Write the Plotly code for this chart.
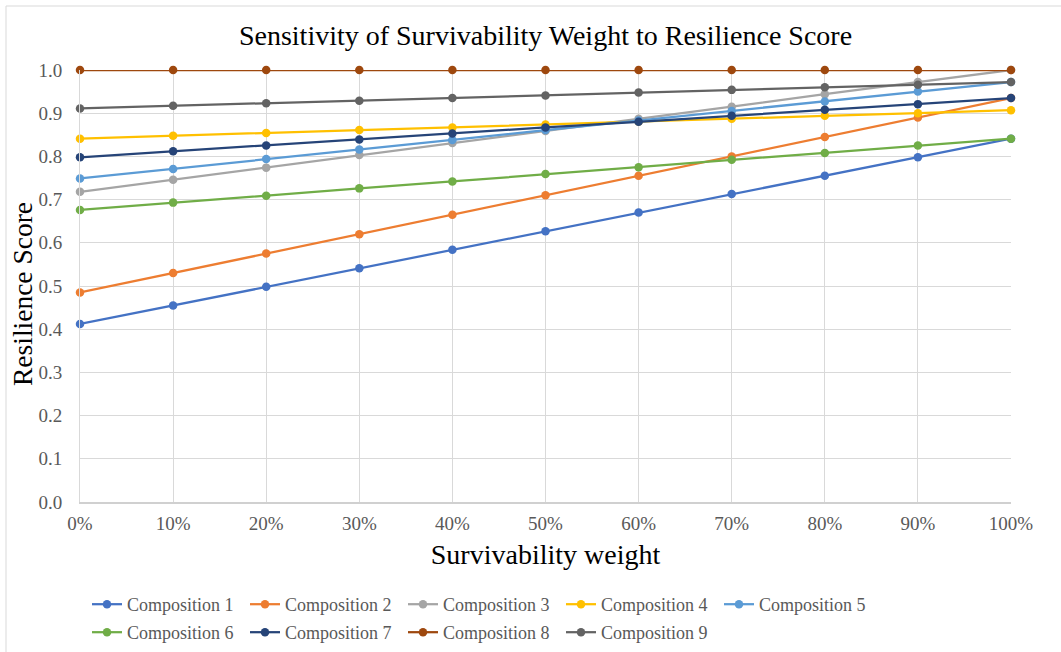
import plotly.graph_objects as go

weights = [0.0, 0.1, 0.2, 0.3, 0.4, 0.5, 0.6, 0.7, 0.8, 0.9, 1.0]

comp1 = [0.412, 0.455, 0.498, 0.541, 0.584, 0.627, 0.670, 0.713, 0.755, 0.798, 0.841]
comp2 = [0.485, 0.530, 0.575, 0.620, 0.665, 0.710, 0.755, 0.800, 0.845, 0.890, 0.935]
comp3 = [0.718, 0.746, 0.774, 0.803, 0.831, 0.859, 0.887, 0.915, 0.944, 0.972, 1.000]
comp4 = [0.841, 0.848, 0.854, 0.861, 0.867, 0.874, 0.881, 0.887, 0.894, 0.900, 0.907]
comp5 = [0.749, 0.771, 0.794, 0.816, 0.838, 0.861, 0.883, 0.905, 0.927, 0.950, 0.972]
comp6 = [0.676, 0.693, 0.709, 0.726, 0.742, 0.759, 0.775, 0.792, 0.808, 0.825, 0.841]
comp7 = [0.798, 0.812, 0.825, 0.839, 0.853, 0.867, 0.880, 0.894, 0.908, 0.921, 0.935]
comp8 = [1.0, 1.0, 1.0, 1.0, 1.0, 1.0, 1.0, 1.0, 1.0, 1.0, 1.0]
comp9 = [0.911, 0.917, 0.923, 0.929, 0.935, 0.941, 0.948, 0.954, 0.960, 0.966, 0.972]

series_names = ["Composition 1", "Composition 2", "Composition 3", "Composition 4",
                "Composition 5", "Composition 6", "Composition 7", "Composition 8",
                "Composition 9"]
series_values = [comp1, comp2, comp3, comp4, comp5, comp6, comp7, comp8, comp9]
colors = ["#4472C4", "#ED7D31", "#A5A5A5", "#FFC000", "#5B9BD5",
          "#70AD47", "#264478", "#9E480E", "#636363"]

title_text = "Sensitivity of Survivability Weight to Resilience Score"
x_title = "Survivability weight"
y_title = "Resilience Score"

FONT = "Liberation Serif, Times New Roman, serif"

fig = go.Figure()
for i, (name, vals, col) in enumerate(zip(series_names, series_values, colors)):
    fig.add_trace(go.Scatter(
        x=weights, y=vals, name=name, mode="lines+markers",
        line=dict(color=col, width=2.25),
        marker=dict(color=col, size=8.5),
        cliponaxis=False,
        legend="legend" if i < 5 else "legend2",
    ))

# plot area in pixels: x 80..1011, y 70..502
L, R, T, B = 80, 50, 70, 150
W, H = 1061, 652
pw, ph = W - L - R, H - T - B

def px_x(p):
    return (p - L) / pw

def px_y(p):
    return (H - B - p) / ph

legend_common = dict(
    orientation="h", xref="container", yref="container",
    xanchor="left", yanchor="top",
    entrywidth=113, entrywidthmode="pixels",
    font=dict(family=FONT, size=18, color="#595959"),
    itemwidth=30, bgcolor="rgba(0,0,0,0)",
)

fig.update_layout(
    width=W, height=H,
    margin=dict(l=L, r=R, t=T, b=B, autoexpand=False),
    paper_bgcolor="white", plot_bgcolor="white",
    font=dict(family=FONT, color="#595959", size=18),
    title=dict(text=title_text,
               font=dict(family=FONT, size=28, color="#000000"),
               x=0.5, xanchor="center", xref="paper",
               yref="container", y=1 - 35 / H, yanchor="middle"),
    xaxis=dict(
        range=[0, 1], tickvals=weights, tickformat=".0%",
        showgrid=True, gridcolor="#D9D9D9", gridwidth=1,
        showline=True, linecolor="#D0D0D0", linewidth=1.5,
        zeroline=False, ticks="", ticklabelstandoff=3, automargin=False,
        tickfont=dict(family=FONT, size=19, color="#595959"),
        title=dict(text=x_title, standoff=12,
                   font=dict(family=FONT, size=28, color="#000000")),
    ),
    yaxis=dict(
        range=[0, 1], dtick=0.1, tickformat=".1f",
        showgrid=True, gridcolor="#D9D9D9", gridwidth=1,
        showline=True, linecolor="#D9D9D9", linewidth=1,
        zeroline=False, ticks="", ticklabelstandoff=13, automargin=False,
        tickfont=dict(family=FONT, size=19, color="#595959"),
    ),
    legend=dict(x=87 / W, y=1 - 586 / H, **legend_common),
    legend2=dict(x=87 / W, y=1 - 614 / H, **legend_common),
    showlegend=True,
)

fig.add_annotation(text=y_title, xref="paper", yref="paper",
                   x=px_x(22), y=px_y(294), xanchor="center", yanchor="middle",
                   textangle=-90, showarrow=False,
                   font=dict(family=FONT, size=27.5, color="#000000"))

fig.add_shape(type="rect", xref="paper", yref="paper",
              x0=px_x(6), x1=px_x(1075), y0=px_y(665), y1=px_y(6),
              line=dict(color="#D9D9D9", width=1), fillcolor="rgba(0,0,0,0)",
              layer="below")

fig.write_html("out.html", config={"displayModeBar": False},
               post_script="document.body.style.margin='0';document.body.style.overflow='hidden';")
